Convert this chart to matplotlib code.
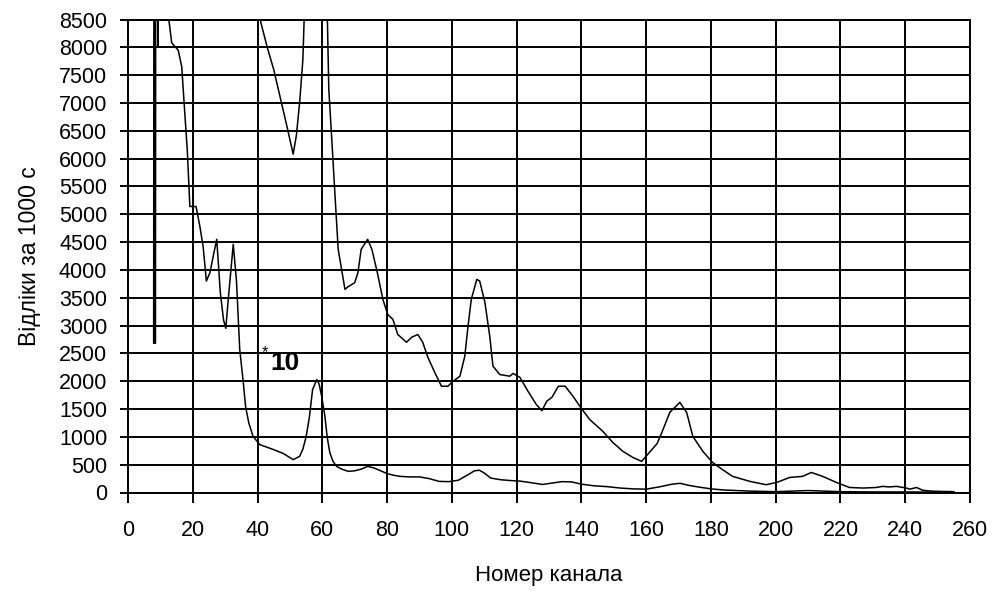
import matplotlib
matplotlib.use("Agg")
import matplotlib.pyplot as plt
import numpy as np

plt.rcParams['font.family'] = ['Liberation Sans', 'DejaVu Sans']

# spectrum (counts per 1000 s)
channels = [8.2, 8.3, 9.0, 9.3, 9.35, 12.4, 13.5, 15.5, 16.6, 17.6, 18.3, 19.1, 21.0,
            22.2, 23.2, 24.2, 25.3, 26.5, 27.4, 28.5, 29.5, 30.2, 31.0, 32.5, 33.5,
            34.5, 35.6, 36.3, 37.3, 38.6, 40.7, 45, 48, 51, 52, 53, 54, 55, 56, 57,
            58.3, 59.0, 59.8, 60.8, 61.5, 62.3, 63.3, 64.4, 66, 68, 70, 72, 74, 76,
            78, 80, 82, 84, 87, 90, 93, 96, 99, 102, 105, 107, 108.5, 110, 112, 115,
            118, 121, 124, 128, 131, 134, 137, 140, 144, 148, 152, 156, 160, 164,
            168, 170.5, 173, 176, 180, 184, 188, 192, 196, 200, 205, 210, 215, 220,
            225, 230, 235, 240, 245, 250, 255]
counts = [2700, 12000, 12000, 8000, 12000, 8600, 8080, 7950, 7650, 6760, 6160, 5140, 5140,
          4780, 4420, 3800, 3950, 4300, 4550, 3600, 3100, 2950, 3500, 4460, 3800,
          2570, 1980, 1550, 1250, 1010, 860, 770, 700, 590, 620, 650, 780, 1000, 1350, 1850,
          2030, 1950, 1730, 1370, 1000, 720, 560, 470, 420, 380, 390, 420, 470, 440,
          390, 340, 310, 290, 280, 280, 250, 200, 195, 220, 320, 390, 400, 350, 260, 230,
          215, 205, 180, 145, 170, 195, 190, 150, 120, 105, 80, 65, 60, 100,
          150, 165, 130, 100, 65, 45, 35, 25, 20, 15, 25, 35, 25, 15,
          12, 10, 10, 10, 8, 6, 5]

# same spectrum shown magnified (*10), from channel 40 on
channels_x10 = [40.5, 41, 43, 45, 47, 49, 51, 52, 53, 54, 54.5, 61.5, 62, 62.9, 63.9,
                64.9, 67, 68, 70, 71, 72, 74, 75.3, 77, 78.7, 80.2, 81.8, 83.3, 86,
                87.6, 89.5, 91, 92.6, 94.7, 96.8, 98.8, 100, 102.5, 104, 105, 106,
                107.7, 108.6, 110.2, 111.7, 112.7, 114.8, 117.9, 118.9, 121, 123.5,
                126.1, 127.8, 129.3, 130.9, 132.9, 135, 137.4, 140, 142.6, 146.6,
                149.7, 152.8, 155.9, 158.6, 161, 163.4, 165.2, 167.3, 170.4, 172.5,
                174.4, 177.5, 180.5, 183.6, 186.7, 192, 197, 200.3, 204.3, 208.3,
                211, 214.5, 218.8, 222.8, 227, 231, 233, 235, 237.3, 240.4, 241.4,
                243.5, 245.4, 248, 251, 255]
counts_x10 = [8700, 8450, 8000, 7600, 7100, 6600, 6080, 6420, 7010, 7780, 8700, 8700, 7250,
              6370, 5360, 4370, 3650, 3700, 3770, 3950, 4370, 4550, 4370, 3950, 3470,
              3200, 3110, 2840, 2700, 2790, 2840, 2700, 2430, 2160, 1910, 1910, 1980,
              2090, 2450, 2990, 3470, 3830, 3800, 3420, 2810, 2270, 2120, 2090, 2140,
              2070, 1820, 1580, 1470, 1640, 1710, 1910, 1910, 1730, 1510, 1310, 1100,
              900, 740, 630, 560, 720, 880, 1130, 1440, 1620, 1440, 1010, 740, 540,
              410, 290, 200, 140, 180, 270, 290, 360, 290, 180, 90, 80, 90, 110, 100,
              110, 80, 60, 90, 40, 25, 20, 15]

xticks = np.arange(0, 261, 20)
yticks = np.arange(0, 8501, 500)

fig = plt.figure(figsize=(9.95, 5.91), dpi=100)
ax = fig.add_axes([128 / 995, 1 - 492.5 / 591, (970 - 128) / 995, (492.5 - 19.5) / 591])

ax.plot(channels, counts, color='black', lw=1.1)
ax.plot(channels_x10, counts_x10, color='black', lw=1.1)
# the first (steep) channel is drawn heavy in the original
ax.plot(channels[:2], counts[:2], color='black', lw=2.4)

ax.set_xlim(0, 260)
ax.set_ylim(0, 8500)
ax.set_xticks(xticks)
ax.set_yticks(yticks)
ax.grid(True, color='black', lw=1.4)
ax.set_axisbelow(True)
for s in ax.spines.values():
    s.set_color('black')
    s.set_linewidth(1.4)
ax.tick_params(axis='x', direction='out', length=7, width=1.4, pad=13, labelsize=15.5)
ax.tick_params(axis='y', direction='out', length=6, width=1.4, pad=9, labelsize=15.5)

ax.text(41.2, 2520, '*', fontsize=12, ha='left', va='center')
ax.text(44.0, 2330, '10', fontsize=19, fontweight='bold', ha='left', va='center')

ax.set_xlabel('Номер канала', fontsize=16, labelpad=17)
ax.set_ylabel('Відліки за 1000 с', fontsize=16.5, labelpad=13)

fig.savefig('out.png', dpi=100)
